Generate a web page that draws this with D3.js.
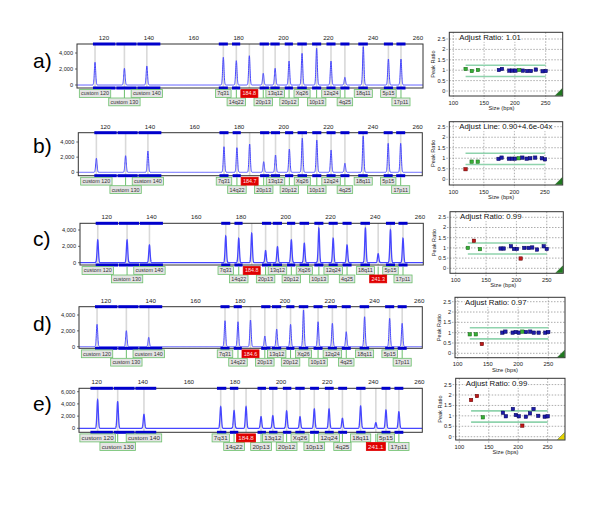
<!DOCTYPE html>
<html><head><meta charset="utf-8">
<script src="https://cdn.jsdelivr.net/npm/d3@7"></script>
<style>body{margin:0;background:#fff}svg{display:block;font-family:Arial,"Liberation Sans",sans-serif}</style>
</head><body><svg id="c" width="600" height="505"></svg>
<script>
// ---------------- DATA ----------------
const panelLetters = ["a)", "b)", "c)", "d)", "e)"];
const probeNames = ["custom 120","custom 130","custom 140","7q31","14q22","20p13","13q12","20p12","Xq26","10p13","12q24","4q25","18q11","5p15","17p11"];
const labelRows = [0,1,0,0,1,1,0,1,0,1,0,1,0,0,1];
const peakSizesAD = [116.0,129.1,139.1,173.2,179.0,191.0,196.3,202.5,208.3,214.8,221.2,227.4,235.6,246.8,252.4];
const peakSizesE  = [120.4,129.1,140.5,173.8,179.6,191.3,196.4,202.4,208.2,214.4,220.8,226.6,234.5,245.5,251.1];
const binLoAD = [114.9,125.3,134.7,171.0,176.9,189.2,194.0,200.4,206.0,212.6,219.0,225.2,233.2,244.6,250.2];
const binHiAD = [125.3,134.7,145.3,175.4,180.9,193.7,198.5,204.4,210.6,217.0,223.4,229.6,237.8,249.0,254.6];
const binLoE  = [117.1,127.2,136.6,172.0,177.6,189.6,194.6,200.6,206.0,212.4,218.8,224.6,232.4,243.4,249.0];
const binHiE  = [127.2,136.6,146.0,176.4,181.6,193.6,198.6,204.6,210.4,216.6,223.0,228.8,236.8,247.6,253.2];
const heightsA = [2840,2090,2375,3460,3040,1460,2090,3000,3960,4590,3000,960,4790,3250,3250];
const heightsB = [1850,2190,2810,3380,3250,1400,2280,3070,4500,4260,2940,1190,4790,3830,3830];
const heightsC = [2780,2780,2160,3260,2980,1470,1960,2780,2370,4200,2980,2160,4200,4000,2980];
const heightsD = [2820,2020,1180,3280,3150,1350,2230,2820,4630,3150,2950,1890,3780,3580,2950];
const heightsE = [4640,4360,2290,3540,2890,1900,2070,2840,1900,3160,3160,1640,3650,3000,2720];
const extraSizesA = [184.8], extraLabelsA = ["184.8"], extraHeightsA = [3660], extraRowsA = [0];
const extraSizesB = [184.7], extraLabelsB = ["184.7"], extraHeightsB = [3730], extraRowsB = [0];
const extraSizesC = [184.8, 241.3], extraLabelsC = ["184.8","241.3"], extraHeightsC = [3590, 1100], extraRowsC = [0, 1];
const extraSizesD = [184.6], extraLabelsD = ["184.6"], extraHeightsD = [3370], extraRowsD = [0];
const extraSizesE = [184.8, 241.1], extraLabelsE = ["184.8","241.1"], extraHeightsE = [3540, 920], extraRowsE = [0, 1];

const ratioSizes = [120,130,140,174,179,191,196,201,207,213,220,226,234,245,250];
const ratiosA = [1.06,0.96,1.01,1.01,1.06,0.98,0.98,0.98,1.01,0.98,0.96,0.96,1.03,0.95,0.96];
const ratiosB = [0.48,0.84,0.84,0.97,1.03,0.98,0.98,0.98,1.00,1.03,0.98,1.00,1.03,1.00,0.95];
const ratiosC = [1.00,1.35,0.94,0.97,0.97,1.08,0.95,0.95,0.48,1.00,1.00,1.02,0.92,1.08,0.95];
const ratiosD = [0.92,0.92,0.45,1.00,1.05,1.00,1.03,1.00,1.05,1.03,1.05,1.00,1.00,1.00,1.03];
const ratiosE = [1.76,1.95,0.93,1.15,0.98,1.33,1.04,0.98,0.53,0.96,1.12,1.33,1.00,0.96,0.98];
const ratioClassA = ["g","g","g","b","b","b","b","b","g","b","b","b","b","b","b"];
const ratioClassB = ["r","g","g","b","b","b","b","b","g","b","b","b","b","b","b"];
const ratioClassC = ["g","r","g","b","b","b","b","b","r","b","b","b","b","b","b"];
const ratioClassD = ["g","g","r","b","b","b","b","b","g","b","b","b","b","b","b"];
const ratioClassE = ["r","r","g","b","b","b","b","b","r","b","b","b","b","b","b"];
const ratioTitles = ["Adjust Ratio: 1.01","Adjust Line: 0.90+4.6e-04x","Adjust Ratio: 0.99","Adjust Ratio: 0.97","Adjust Ratio: 0.99"];
const flagColors = ["#1f7a1f","#1f7a1f","#1f7a1f","#1f7a1f","#e6d200"];
const bandLimits = [0.7, 1.24];
const bandRange = [120, 250];

const sizeTicks = [120,140,160,180,200,220,240,260];
const signalTicksAD = [0,2000,4000];
const signalTicksE = [0,2000,4000,6000];
const ratioXTicks = [100,150,200,250];
const ratioYTicks = [0,0.5,1,1.5,2,2.5];

// ---------------- LAYOUT ----------------
const layouts = [
 {letterY:68,  x120:104,   k:2.243, zero:85,    unit:8.0,   box:[77,423,44,88],      lf:5.4, lh:7.8,
  rp:{x100:453.3,kx:0.616,zero:91,uy:20.8,box:[449.3,562.7,32.3,96]}},
 {letterY:153, x120:105.3, k:2.231, zero:172.3, unit:7.575, box:[78.3,422.3,132.7,175.7], lf:5.4, lh:7.8,
  rp:{x100:453.3,kx:0.611,zero:179.3,uy:21.04,box:[449.3,562.7,121.7,185]}},
 {letterY:246, x120:106.7, k:2.238, zero:262.7, unit:8.175, box:[80,423.3,223.3,265],   lf:5.4, lh:7.8,
  rp:{x100:455.7,kx:0.607,zero:268.3,uy:20.4,box:[450,563.3,211.7,273.3]}},
 {letterY:331, x120:106,   k:2.237, zero:346.7, unit:7.925, box:[79,422.3,306.7,348.3], lf:5.4, lh:7.8,
  rp:{x100:457.7,kx:0.604,zero:353.3,uy:20.64,box:[455,565,297.3,357.7]}},
 {letterY:411, x120:96.7,  k:2.305, zero:428.3, unit:6.1,   box:[79,422.3,388.3,432.3], lf:6.2, lh:8.0,
  rp:{x100:459.3,kx:0.589,zero:436.7,uy:20.85,box:[455.7,565,378.3,440]}}
];

const panelData = [
 {sizes:peakSizesAD, lo:binLoAD, hi:binHiAD, h:heightsA, es:extraSizesA, el:extraLabelsA, eh:extraHeightsA, er:extraRowsA, yt:signalTicksAD, r:ratiosA, rc:ratioClassA},
 {sizes:peakSizesAD, lo:binLoAD, hi:binHiAD, h:heightsB, es:extraSizesB, el:extraLabelsB, eh:extraHeightsB, er:extraRowsB, yt:signalTicksAD, r:ratiosB, rc:ratioClassB},
 {sizes:peakSizesAD, lo:binLoAD, hi:binHiAD, h:heightsC, es:extraSizesC, el:extraLabelsC, eh:extraHeightsC, er:extraRowsC, yt:signalTicksAD, r:ratiosC, rc:ratioClassC},
 {sizes:peakSizesAD, lo:binLoAD, hi:binHiAD, h:heightsD, es:extraSizesD, el:extraLabelsD, eh:extraHeightsD, er:extraRowsD, yt:signalTicksAD, r:ratiosD, rc:ratioClassD},
 {sizes:peakSizesE,  lo:binLoE,  hi:binHiE,  h:heightsE, es:extraSizesE, el:extraLabelsE, eh:extraHeightsE, er:extraRowsE, yt:signalTicksE,  r:ratiosE, rc:ratioClassE}
];

const svg = d3.select("#c");
const fmt = d3.format(",");
const ptFill = {b:"#1c1caa", g:"#35b035", r:"#c01818"};
const ptStroke = {b:"#000050", g:"#176017", r:"#5a0000"};

layouts.forEach((L, i) => {
  const D = panelData[i];
  const g = svg.append("g");
  const [bx0, bx1, by0, by1] = L.box;

  // panel letter
  g.append("text").attr("x", 33).attr("y", L.letterY).attr("font-size", 21).attr("fill", "#000").text(panelLetters[i]);

  const x = d3.scaleLinear().domain([120, 260]).range([L.x120, L.x120 + 140 * L.k]);
  const y = d3.scaleLinear().domain([0, 1000]).range([L.zero, L.zero - L.unit]);

  // frame background
  g.append("rect").attr("x", bx0).attr("y", by0).attr("width", bx1 - bx0).attr("height", by1 - by0).attr("fill", "#fff");

  const clipId = "clip" + i;
  g.append("clipPath").attr("id", clipId).append("rect")
    .attr("x", bx0).attr("y", by0).attr("width", bx1 - bx0).attr("height", by1 - by0);

  // gray peak lines
  const allPeaks = D.sizes.concat(D.es);
  const allH = D.h.concat(D.eh);
  g.selectAll(".pl").data(allPeaks).enter().append("line")
    .attr("x1", d => x(d)).attr("x2", d => x(d)).attr("y1", by0).attr("y2", by1)
    .attr("stroke", "#d9d9d9").attr("stroke-width", 1.6);

  // trace
  const sig = 0.3;
  const dom0 = x.invert(bx0), dom1 = x.invert(bx1);
  const pts = d3.range(dom0, dom1, 0.04).map(s => {
    let v = 0;
    allPeaks.forEach((p, j) => { const z = (s - p) / sig; if (Math.abs(z) < 6) v += allH[j] * Math.exp(-0.5 * z * z); });
    return [s, v];
  });
  g.append("path").attr("clip-path", `url(#${clipId})`)
    .attr("d", d3.line().x(d => x(d[0])).y(d => y(d[1]))(pts))
    .attr("fill", "none").attr("stroke", "#4646ff").attr("stroke-width", i === 2 || i === 4 ? 1.3 : 1);

  // frame
  g.append("rect").attr("x", bx0).attr("y", by0).attr("width", bx1 - bx0).attr("height", by1 - by0)
    .attr("fill", "none").attr("stroke", "#333").attr("stroke-width", 1);

  // bins top & bottom
  [by0, by1].forEach(yy => {
    g.selectAll(null).data(D.lo).enter().append("rect")
      .attr("x", (d, j) => x(d) + 0.4).attr("width", (d, j) => Math.max(0, x(D.hi[j]) - x(d) - 0.8))
      .attr("y", yy - 1.5).attr("height", 3).attr("fill", "#0000cc");
  });

  // top size ticks
  g.selectAll(null).data(sizeTicks).enter().append("text")
    .attr("x", d => x(d)).attr("y", by0 - 4).attr("text-anchor", "middle")
    .attr("font-size", 6.2).attr("fill", "#222").text(d => d);

  // y ticks
  D.yt.forEach(t => {
    g.append("line").attr("x1", bx0 - 2).attr("x2", bx0).attr("y1", y(t)).attr("y2", y(t)).attr("stroke", "#333").attr("stroke-width", 0.7);
    g.append("text").attr("x", bx0 - 4).attr("y", y(t)).attr("dy", "0.35em").attr("text-anchor", "end")
      .attr("font-size", 5.6).attr("fill", "#222").text(fmt(t));
  });

  // labels
  const rowTop = [by1 + 1.6, by1 + 1.6 + L.lh + 0.6];
  function label(s, txt, row, red) {
    const xx = x(s);
    const top = rowTop[row];
    g.append("line").attr("x1", xx).attr("x2", xx).attr("y1", by1 + 1.5).attr("y2", top)
      .attr("stroke", "#5cb85c").attr("stroke-width", 0.9);
    const t = g.append("text").attr("x", xx).attr("y", top + L.lh / 2).attr("dy", "0.36em")
      .attr("text-anchor", "middle").attr("font-size", L.lf).attr("fill", red ? "#ffe0e0" : "#333").text(txt);
    const w = t.node().getComputedTextLength() + 3.5;
    g.insert("rect", () => t.node()).attr("x", xx - w / 2).attr("y", top).attr("width", w).attr("height", L.lh)
      .attr("fill", red ? "#e00000" : "#e4e4e4").attr("stroke", red ? "#e00000" : "#6cc06c").attr("stroke-width", 0.8);
  }
  D.sizes.forEach((s, j) => label(s, probeNames[j], labelRows[j], false));
  D.es.forEach((s, j) => label(s, D.el[j], D.er[j], true));

  // -------- ratio plot --------
  const R = L.rp;
  const [rx0, rx1, ry0, ry1] = R.box;
  const xr = d3.scaleLinear().domain([100, 250]).range([R.x100, R.x100 + 150 * R.kx]);
  const yr = d3.scaleLinear().domain([0, 1]).range([R.zero, R.zero - R.uy]);
  const rg = svg.append("g");
  rg.append("rect").attr("x", rx0).attr("y", ry0).attr("width", rx1 - rx0).attr("height", ry1 - ry0).attr("fill", "#fff");
  ratioYTicks.forEach(t => {
    rg.append("line").attr("x1", rx0 - 3).attr("x2", rx1).attr("y1", yr(t)).attr("y2", yr(t))
      .attr("stroke", "#8a8a8a").attr("stroke-width", 0.7).attr("stroke-dasharray", "1.5,1.5");
    rg.append("text").attr("x", rx0 - 4).attr("y", yr(t)).attr("dy", "0.35em").attr("text-anchor", "end")
      .attr("font-size", 5.6).attr("fill", "#222").text(t);
  });
  ratioXTicks.forEach(t => {
    rg.append("line").attr("x1", xr(t)).attr("x2", xr(t)).attr("y1", ry0).attr("y2", ry1 + 3)
      .attr("stroke", "#8a8a8a").attr("stroke-width", 0.7).attr("stroke-dasharray", "1.5,1.5");
    rg.append("text").attr("x", xr(t)).attr("y", ry1 + 8.5).attr("text-anchor", "middle")
      .attr("font-size", 5.8).attr("fill", "#222").text(t);
  });
  bandLimits.forEach(b => {
    rg.append("line").attr("x1", xr(bandRange[0])).attr("x2", xr(bandRange[1])).attr("y1", yr(b)).attr("y2", yr(b))
      .attr("stroke", "#8fd3ad").attr("stroke-width", 1.6);
  });
  rg.selectAll(null).data(ratioSizes).enter().append("rect")
    .attr("x", (d) => xr(d) - 1.7).attr("y", (d, j) => yr(D.r[j]) - 1.7).attr("width", 3.4).attr("height", 3.4)
    .attr("fill", (d, j) => ptFill[D.rc[j]]).attr("stroke", (d, j) => ptStroke[D.rc[j]]).attr("stroke-width", 0.5);
  rg.append("rect").attr("x", rx0).attr("y", ry0).attr("width", rx1 - rx0).attr("height", ry1 - ry0)
    .attr("fill", "none").attr("stroke", "#333").attr("stroke-width", 1);
  // title
  const tt = rg.append("text").attr("x", rx0 + 10).attr("y", ry0 + 7.5).attr("font-size", 7.8).attr("fill", "#111").text(ratioTitles[i]);
  const tb = tt.node().getBBox();
  rg.insert("rect", () => tt.node()).attr("x", tb.x - 0.5).attr("y", tb.y + 1).attr("width", tb.width + 1).attr("height", tb.height - 1).attr("fill", "#fff");
  // flag triangle
  rg.append("path").attr("d", `M${rx1 - 0.5},${ry1 - 0.5} L${rx1 - 7.5},${ry1 - 0.5} L${rx1 - 0.5},${ry1 - 7.5} Z`)
    .attr("fill", flagColors[i]).attr("stroke", "#2a4a2a").attr("stroke-width", 0.4);
  // axis titles
  rg.append("text").attr("transform", `translate(${rx0 - 14},${(ry0 + ry1) / 2}) rotate(-90)`)
    .attr("text-anchor", "middle").attr("font-size", 5.6).attr("fill", "#222").text("Peak Ratio");
  rg.append("text").attr("x", (xr(100) + xr(250)) / 2 + 2).attr("y", ry1 + 14).attr("text-anchor", "middle")
    .attr("font-size", 5.8).attr("fill", "#222").text("Size (bps)");
});
</script></body></html>
